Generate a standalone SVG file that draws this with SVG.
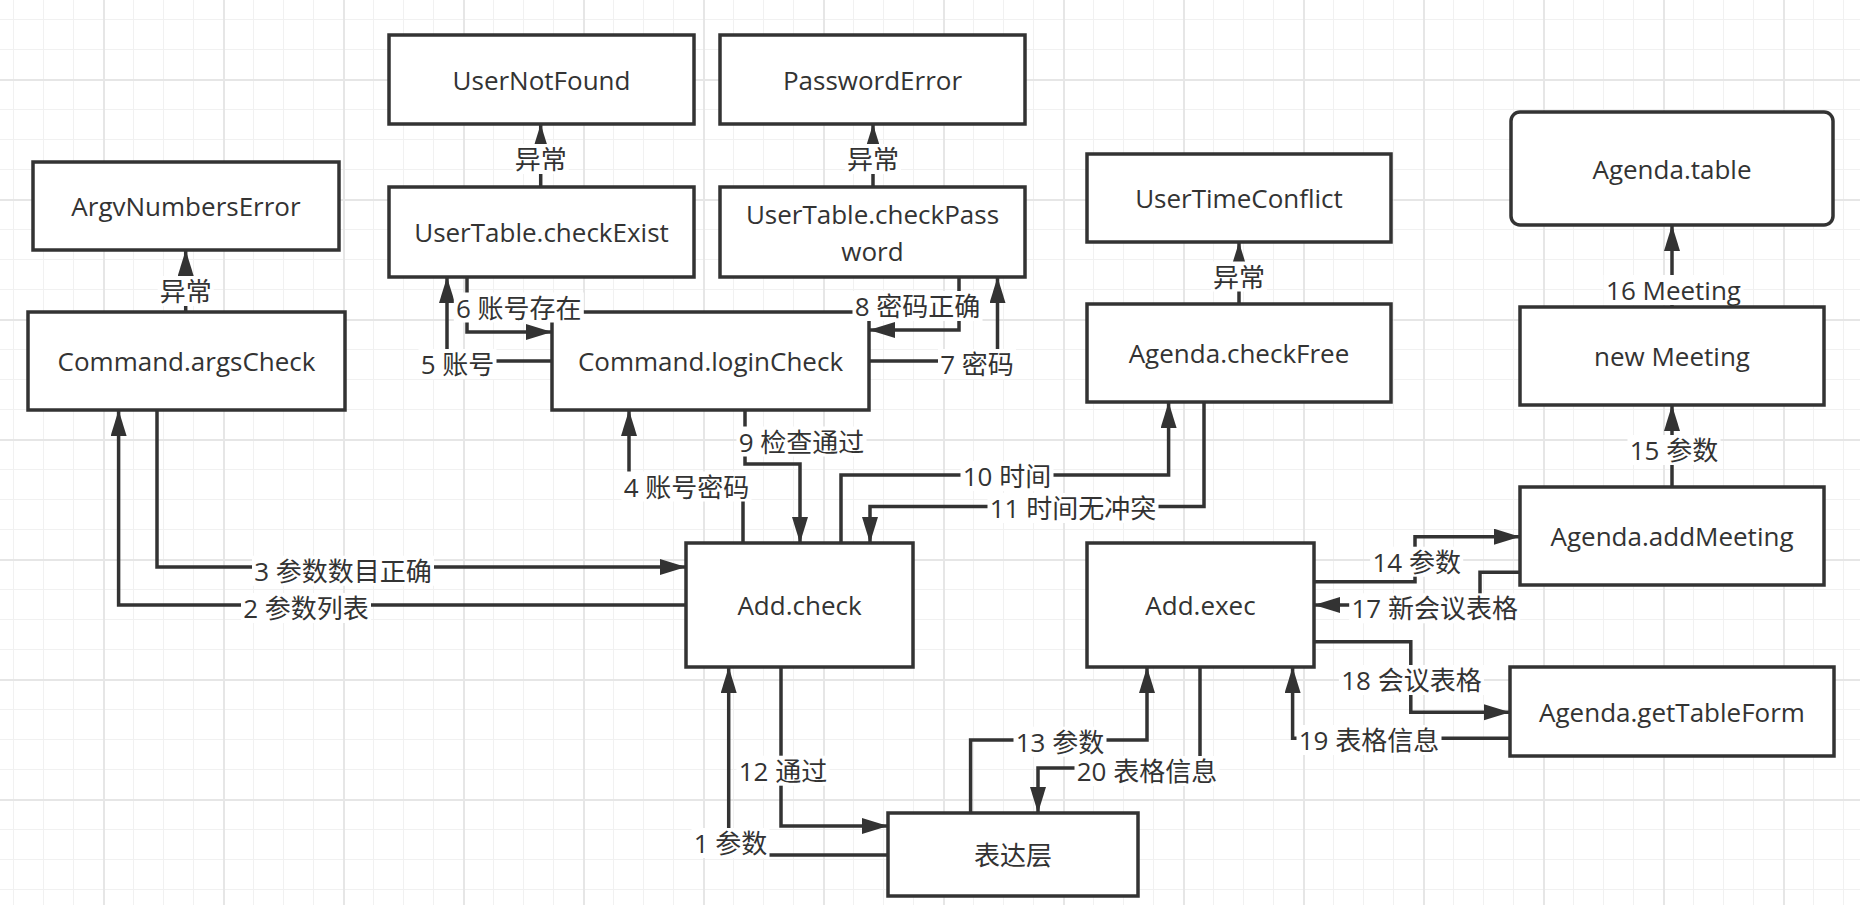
<svg xmlns="http://www.w3.org/2000/svg" width="1860" height="905" viewBox="0 0 1860 905">
<defs>
<pattern id="grid" patternUnits="userSpaceOnUse" x="103" y="79" width="120" height="120">
<rect x="30" y="0" width="1" height="120" fill="#f1f1f1"/>
<rect x="60" y="0" width="1" height="120" fill="#f1f1f1"/>
<rect x="90" y="0" width="1" height="120" fill="#f1f1f1"/>
<rect x="0" y="30" width="120" height="1" fill="#f1f1f1"/>
<rect x="0" y="60" width="120" height="1" fill="#f1f1f1"/>
<rect x="0" y="90" width="120" height="1" fill="#f1f1f1"/>
<rect x="0" y="0" width="2" height="120" fill="#e6e6e6"/>
<rect x="0" y="0" width="120" height="2" fill="#e6e6e6"/>
</pattern>
<marker id="arr" markerUnits="userSpaceOnUse" markerWidth="28" markerHeight="18" refX="26" refY="8" orient="auto">
<path d="M0,0 L26,8 L0,16 z" fill="#333"/>
</marker>
<style>
.n rect{fill:#fff;stroke:#333;stroke-width:3.5}
.t{font-family:"Open Sans","Noto Sans CJK SC",sans-serif;font-size:26px;fill:#333;text-anchor:middle;dominant-baseline:central}
#connectors path{fill:none;stroke:#333;stroke-width:3.5;marker-end:url(#arr)}
.lb rect{fill:#fff}
</style>
</defs>
<rect x="0" y="0" width="1860" height="905" fill="#fff"/>
<rect x="0" y="0" width="1860" height="905" fill="url(#grid)"/>

<g id="ArgvNumbersError" class="n"><rect x="33" y="162" width="306" height="88"/><text class="t" x="186" y="206">ArgvNumbersError</text></g>
<g id="CommandArgsCheck" class="n"><rect x="28" y="312" width="317" height="98"/><text class="t" x="186.5" y="361">Command.argsCheck</text></g>
<g id="UserNotFound" class="n"><rect x="389" y="35" width="305" height="89"/><text class="t" x="541.5" y="79.5">UserNotFound</text></g>
<g id="UserTableCheckExist" class="n"><rect x="389" y="187" width="305" height="90"/><text class="t" x="541.5" y="232">UserTable.checkExist</text></g>
<g id="PasswordError" class="n"><rect x="720" y="35" width="305" height="89"/><text class="t" x="872.5" y="79.5">PasswordError</text></g>
<g id="UserTableCheckPassword" class="n"><rect x="720" y="187" width="305" height="90"/><text class="t" x="872.5" y="213.5">UserTable.checkPass</text><text class="t" x="872.5" y="250.5">word</text></g>
<g id="CommandLoginCheck" class="n"><rect x="552" y="312" width="317" height="98"/><text class="t" x="710.5" y="361">Command.loginCheck</text></g>
<g id="UserTimeConflict" class="n"><rect x="1087" y="154" width="304" height="88"/><text class="t" x="1239" y="198">UserTimeConflict</text></g>
<g id="AgendaCheckFree" class="n"><rect x="1087" y="304" width="304" height="98"/><text class="t" x="1239" y="353">Agenda.checkFree</text></g>
<g id="AgendaTable" class="n"><rect x="1511" y="112" width="322" height="113" rx="9" ry="9"/><text class="t" x="1672" y="168.5">Agenda.table</text></g>
<g id="NewMeeting" class="n"><rect x="1520" y="307" width="304" height="98"/><text class="t" x="1672" y="356">new Meeting</text></g>
<g id="AgendaAddMeeting" class="n"><rect x="1520" y="487" width="304" height="98"/><text class="t" x="1672" y="536">Agenda.addMeeting</text></g>
<g id="AgendaGetTableForm" class="n"><rect x="1510" y="667" width="324" height="89"/><text class="t" x="1672" y="711.5">Agenda.getTableForm</text></g>
<g id="AddCheck" class="n"><rect x="686" y="543" width="227" height="124"/><text class="t" x="799.5" y="605">Add.check</text></g>
<g id="AddExec" class="n"><rect x="1087" y="543" width="227" height="124"/><text class="t" x="1200.5" y="605">Add.exec</text></g>
<g id="Presentation" class="n"><rect x="888" y="813" width="250" height="83"/><text class="t" x="1013" y="854.5">表达层</text></g>

<g id="connectors">
<path d="M185.7,312 V250"/>
<path d="M540.7,187 V124"/>
<path d="M873,187 V124"/>
<path d="M1239,304 V242"/>
<path d="M552,361 H447 V277"/>
<path d="M467,277 V332 H552"/>
<path d="M869,361 H997.5 V277"/>
<path d="M959,277 V330 H869"/>
<path d="M686,605 H118.6 V410"/>
<path d="M157,410 V567 H686"/>
<path d="M743,543 V486 H629 V410"/>
<path d="M745,410 V464 H800 V543"/>
<path d="M841,543 V475 H1168.6 V402"/>
<path d="M1204,402 V506.5 H870 V543"/>
<path d="M781,667 V826 H888"/>
<path d="M888,855 H728.7 V667"/>
<path d="M970.6,813 V740 H1147 V667"/>
<path d="M1200,667 V768 H1038 V813"/>
<path d="M1314,581.7 H1415 V536.7 H1520"/>
<path d="M1520,572.3 H1480 V605 H1314"/>
<path d="M1314,641.7 H1410.8 V712.3 H1510"/>
<path d="M1510,738.3 H1292.6 V667"/>
<path d="M1672,487 V405"/>
<path d="M1672,307 V225"/>

<g class="lb"><rect x="157.7" y="276" width="56" height="30"/><text class="t" x="185.7" y="291">异常</text></g>
<g class="lb"><rect x="512.7" y="144" width="56" height="30"/><text class="t" x="540.7" y="159">异常</text></g>
<g class="lb"><rect x="845" y="144" width="56" height="30"/><text class="t" x="873" y="159">异常</text></g>
<g class="lb"><rect x="1211" y="261.5" width="56" height="30"/><text class="t" x="1239" y="276.5">异常</text></g>
<g class="lb"><rect x="418.5" y="349" width="78" height="30"/><text class="t" x="457.5" y="364">5 账号</text></g>
<g class="lb"><rect x="453.8" y="292.5" width="130" height="30"/><text class="t" x="518.8" y="307.5">6 账号存在</text></g>
<g class="lb"><rect x="938" y="349" width="78" height="30"/><text class="t" x="977" y="364">7 密码</text></g>
<g class="lb"><rect x="852.5" y="291" width="130" height="30"/><text class="t" x="917.5" y="306">8 密码正确</text></g>
<g class="lb"><rect x="241" y="593" width="130" height="30"/><text class="t" x="306" y="608">2 参数列表</text></g>
<g class="lb"><rect x="252" y="555.7" width="182" height="30"/><text class="t" x="343" y="570.7">3 参数数目正确</text></g>
<g class="lb"><rect x="621.5" y="471.5" width="130" height="30"/><text class="t" x="686.5" y="486.5">4 账号密码</text></g>
<g class="lb"><rect x="736.5" y="426.5" width="130" height="30"/><text class="t" x="801.5" y="441.5">9 检查通过</text></g>
<g class="lb"><rect x="960.5" y="461" width="93" height="30"/><text class="t" x="1007" y="476">10 时间</text></g>
<g class="lb"><rect x="987.5" y="493" width="171" height="30"/><text class="t" x="1073" y="508">11 时间无冲突</text></g>
<g class="lb"><rect x="736.5" y="755.7" width="93" height="30"/><text class="t" x="783" y="770.7">12 通过</text></g>
<g class="lb"><rect x="691.5" y="828" width="78" height="30"/><text class="t" x="730.5" y="843">1 参数</text></g>
<g class="lb"><rect x="1013.5" y="726.7" width="93" height="30"/><text class="t" x="1060" y="741.7">13 参数</text></g>
<g class="lb"><rect x="1074.5" y="756" width="145" height="30"/><text class="t" x="1147" y="770.7">20 表格信息</text></g>
<g class="lb"><rect x="1370.2" y="546.7" width="93" height="30"/><text class="t" x="1416.7" y="561.7">14 参数</text></g>
<g class="lb"><rect x="1349.2" y="593.3" width="171" height="30"/><text class="t" x="1434.7" y="608.3">17 新会议表格</text></g>
<g class="lb"><rect x="1338.9" y="665" width="145" height="30"/><text class="t" x="1411.4" y="680">18 会议表格</text></g>
<g class="lb"><rect x="1296.5" y="725" width="145" height="30"/><text class="t" x="1369" y="740">19 表格信息</text></g>
<g class="lb"><rect x="1627.5" y="435" width="93" height="30"/><text class="t" x="1674" y="450">15 参数</text></g>
<g class="lb"><rect x="1603.5" y="275" width="140" height="30"/><text class="t" x="1673.5" y="290">16 Meeting</text></g>
</g>
</svg>
